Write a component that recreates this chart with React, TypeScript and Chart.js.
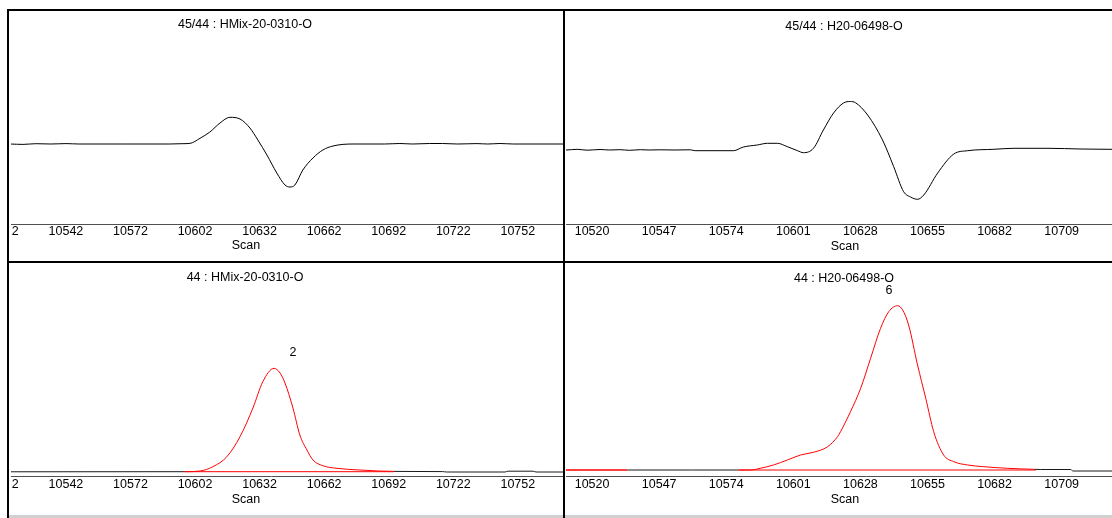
import React, { useEffect, useRef } from "react";
import { Chart, registerables } from "chart.js";

Chart.register(...registerables);

// ---------- axis ticks ----------
const leftTicks = [10512, 10542, 10572, 10602, 10632, 10662, 10692, 10722, 10752];
const rightTicks = [10520, 10547, 10574, 10601, 10628, 10655, 10682, 10709, 10736];
const leftRange = [10501.6, 10773.0];
const rightRange = [10509.5, 10751.0];

// ---------- 45/44 : HMix-20-0310-O (ratio trace) ----------
const tlScan = [10500, 10508, 10516, 10522, 10528, 10535, 10542, 10548, 10570, 10590, 10596, 10599.6, 10604.3, 10608.9, 10613.6, 10618.2, 10622.9, 10627.5, 10631.2, 10635.4, 10640, 10643.8, 10646.1, 10648.4, 10652.1, 10656.8, 10661.4, 10666.1, 10675.4, 10690, 10697.2, 10703, 10711, 10717, 10724, 10733, 10738, 10743.7, 10750, 10785];
const tlRatio = [80, 80.3, 80, 79.6, 80.3, 80, 80.4, 80, 80, 80, 80.3, 80.6, 85.7, 92, 101, 106.7, 105, 96, 84, 69, 51, 39, 37, 39, 54, 66, 74, 78, 80, 80, 80.5, 80, 80.5, 80.5, 80, 80.4, 80, 80.5, 80, 80];

// ---------- 45/44 : H20-06498-O (ratio trace) ----------
const trScan = [10500, 10509.5, 10514, 10518, 10523.2, 10527, 10531.3, 10535, 10539.4, 10543, 10547.4, 10553, 10559.5, 10561.5, 10576.9, 10580.9, 10586.5, 10590.6, 10594.6, 10598.6, 10602.7, 10605.1, 10609.1, 10613.1, 10617.2, 10621.2, 10624, 10626, 10630.9, 10636.9, 10641.4, 10645.4, 10648.2, 10651, 10653.5, 10659.1, 10665.6, 10671.2, 10681.7, 10689.8, 10703.5, 10716.8, 10727.7, 10760];
const trRatio = [74, 74, 74.7, 73.8, 74.5, 74, 74.3, 73.7, 74.3, 74, 74.2, 74, 74.2, 73.3, 73.3, 77, 79, 80.7, 80.7, 77.3, 73.3, 71.3, 75.7, 94, 111, 121, 122.5, 121.3, 109, 84, 57.3, 32.3, 27, 24.7, 29, 51, 70, 73.3, 74.7, 75.7, 75.7, 75, 74.7, 74.7];

// ---------- 44 : HMix-20-0310-O (mass 44 trace) ----------
const blScan = [10500, 10597.3, 10604.3, 10610.3, 10616.8, 10622.9, 10628.9, 10633.5, 10638.7, 10641.5, 10643.8, 10647.5, 10650.7, 10654, 10656.8, 10661.4, 10667.9, 10678.6, 10694.4, 10717, 10719, 10746, 10747.5, 10759, 10760.5, 10785];
const blIntensity = [3.2, 3.3, 4, 8.3, 18.3, 38.3, 67, 93.3, 106.7, 102, 92, 67, 40, 25, 15, 9.3, 6.7, 5, 3.6, 3.4, 3, 3, 3.8, 3.8, 3, 3];
const blPeak = [10597.3, 10694.4];
const blBaseline = [3.3, 3.3];
const blPeakLabel = { text: "2", scan: 10647.5, value: 122 };

// ---------- 44 : H20-06498-O (mass 44 trace) ----------
const brScan = [10500, 10534.1, 10560, 10578.9, 10583.7, 10587.7, 10593, 10598.6, 10603.9, 10609.1, 10614.8, 10618.8, 10620, 10624, 10628.1, 10632.1, 10636.1, 10639.4, 10643, 10645, 10647.4, 10651, 10654.3, 10657.5, 10661.5, 10665.6, 10671.2, 10677.7, 10687.3, 10697.8, 10700.6, 10712.7, 10713.5, 10760];
const brIntensity = [5, 5, 5, 5, 5, 6.7, 10, 15, 20, 22.7, 28.3, 38.3, 43.3, 63.3, 86.7, 116.7, 146.7, 163.3, 169.3, 165, 150, 110, 76.7, 43.3, 20, 13.3, 10, 8.3, 6.7, 5.7, 5.5, 5.5, 4, 4];
const brPrevPeakEnd = 10534.1;
const brPeak = [10578.9, 10698.6];
const brBaseline = [5, 5];
const brPeakLabel = { text: "6", scan: 10639.5, value: 184 };

const RED = "rgb(255,0,0)";
const DARK = "#1a1a1a";
const FONT = "'Liberation Sans', Arial, sans-serif";

type PanelCfg = {
  left: number; top: number; width: number; height: number;
  canvasLeft: number; canvasWidth: number;
  range: number[]; yMin: number; yMax: number; axisHeight: number; tickPadding: number;
  ticks: number[];
  datasets: any[];
  title: string; titleX: number; titleY: number; scanX: number; scanY: number;
  peakLabel?: { text: string; scan: number; value: number };
};

function Panel({ cfg }: { cfg: PanelCfg }) {
  const ref = useRef<HTMLCanvasElement | null>(null);
  useEffect(() => {
    if (!ref.current) return;
    const textPlugin = {
      id: "panelText",
      afterDraw(chart: any) {
        const ctx = chart.ctx;
        ctx.save();
        ctx.fillStyle = "#000";
        ctx.font = `12.5px ${FONT}`;
        ctx.textAlign = "center";
        ctx.textBaseline = "middle";
        ctx.fillText(cfg.title, cfg.titleX, cfg.titleY);
        ctx.fillText("Scan", cfg.scanX, cfg.scanY);
        if (cfg.peakLabel) {
          const px = chart.scales.x.getPixelForValue(cfg.peakLabel.scan);
          const py = chart.scales.y.getPixelForValue(cfg.peakLabel.value);
          ctx.fillText(cfg.peakLabel.text, px, py);
        }
        ctx.restore();
      },
    };
    const chart = new Chart(ref.current, {
      type: "line",
      data: { datasets: cfg.datasets },
      options: {
        animation: false,
        responsive: false,
        events: [],
        layout: { padding: 0, autoPadding: false },
        plugins: { legend: { display: false }, tooltip: { enabled: false }, title: { display: false } },
        elements: { point: { radius: 0 }, line: { borderWidth: 1 } },
        scales: {
          x: {
            type: "linear",
            min: cfg.range[0],
            max: cfg.range[1],
            grid: { display: false, drawTicks: false },
            border: { display: true, color: "#505050", width: 1 },
            afterBuildTicks: (s: any) => {
              s.ticks = cfg.ticks.map((v) => ({ value: v }));
            },
            afterFit: (s: any) => {
              s.height = cfg.axisHeight;
            },
            ticks: {
              autoSkip: false,
              maxRotation: 0,
              minRotation: 0,
              padding: cfg.tickPadding,
              color: "#000",
              font: { family: FONT, size: 12.5 },
              callback: (v: any) => String(v),
            },
          },
          y: { type: "linear", display: false, min: cfg.yMin, max: cfg.yMax },
        },
      },
      plugins: [textPlugin],
    } as any);
    return () => chart.destroy();
  }, [cfg]);
  return (
    <div style={{ position: "absolute", left: cfg.left, top: cfg.top, width: cfg.width, height: cfg.height, overflow: "hidden" }}>
      <canvas
        ref={ref}
        width={cfg.canvasWidth}
        height={cfg.height}
        style={{ position: "absolute", left: cfg.canvasLeft, top: 0, width: cfg.canvasWidth, height: cfg.height }}
      />
    </div>
  );
}

const pts = (xs: number[], ys: number[]) => xs.map((x, i) => ({ x, y: ys[i] }));

const panels: PanelCfg[] = [
  {
    left: 11, top: 11, width: 552, height: 250, canvasLeft: -32, canvasWidth: 584,
    range: leftRange, yMin: 0, yMax: 213, axisHeight: 37, tickPadding: 0, ticks: leftTicks,
    datasets: [{ data: pts(tlScan, tlRatio), borderColor: "#000", cubicInterpolationMode: "monotone" }],
    title: "45/44 : HMix-20-0310-O", titleX: 266, titleY: 14, scanX: 267, scanY: 235,
  },
  {
    left: 565, top: 11, width: 547, height: 250, canvasLeft: 1, canvasWidth: 600,
    range: rightRange, yMin: 0, yMax: 213, axisHeight: 37, tickPadding: 0, ticks: rightTicks,
    datasets: [{ data: pts(trScan, trRatio), borderColor: "#000", cubicInterpolationMode: "monotone" }],
    title: "45/44 : H20-06498-O", titleX: 278, titleY: 16, scanX: 279, scanY: 236,
  },
  {
    left: 11, top: 263, width: 552, height: 252, canvasLeft: -32, canvasWidth: 584,
    range: leftRange, yMin: -1, yMax: 212, axisHeight: 39, tickPadding: 1, ticks: leftTicks,
    datasets: [
      { data: pts(blPeak, blBaseline), borderColor: RED },
      {
        data: pts(blScan, blIntensity),
        borderColor: DARK,
        cubicInterpolationMode: "monotone",
        segment: {
          borderColor: (c: any) =>
            c.p0.parsed.x >= blPeak[0] - 0.01 && c.p1.parsed.x <= blPeak[1] + 0.01 ? RED : DARK,
        },
      },
    ],
    title: "44 : HMix-20-0310-O", titleX: 266, titleY: 15, scanX: 267, scanY: 237,
    peakLabel: blPeakLabel,
  },
  {
    left: 565, top: 263, width: 547, height: 252, canvasLeft: 1, canvasWidth: 600,
    range: rightRange, yMin: -1, yMax: 212, axisHeight: 39, tickPadding: 1, ticks: rightTicks,
    datasets: [
      { data: [...pts([10500, brPrevPeakEnd], brBaseline), { x: 10556, y: null }, ...pts(brPeak, brBaseline)], borderColor: RED, spanGaps: false },
      {
        data: pts(brScan, brIntensity),
        borderColor: DARK,
        cubicInterpolationMode: "monotone",
        segment: {
          borderColor: (c: any) =>
            c.p1.parsed.x <= brPrevPeakEnd + 0.01 ||
            (c.p0.parsed.x >= brPeak[0] - 0.01 && c.p1.parsed.x <= brPeak[1] + 0.01)
              ? RED
              : DARK,
        },
      },
    ],
    title: "44 : H20-06498-O", titleX: 278, titleY: 16, scanX: 279, scanY: 237,
    peakLabel: brPeakLabel,
  },
];

export default function App() {
  const line = (l: number, t: number, w: number, h: number, c = "#000") => (
    <div style={{ position: "absolute", left: l, top: t, width: w, height: h, background: c, zIndex: 2 }} />
  );
  return (
    <div style={{ position: "fixed", left: 0, top: 0, width: 1112, height: 518, background: "#fff", overflow: "hidden", fontFamily: FONT }}>
      {panels.map((p, i) => (
        <Panel key={i} cfg={p} />
      ))}
      {line(9, 515, 1103, 3, "#d0d0d0")}
      {line(7, 9, 1105, 2)}
      {line(7, 261, 1105, 2)}
      {line(7, 9, 2, 509)}
      {line(563, 9, 2, 509)}
    </div>
  );
}
